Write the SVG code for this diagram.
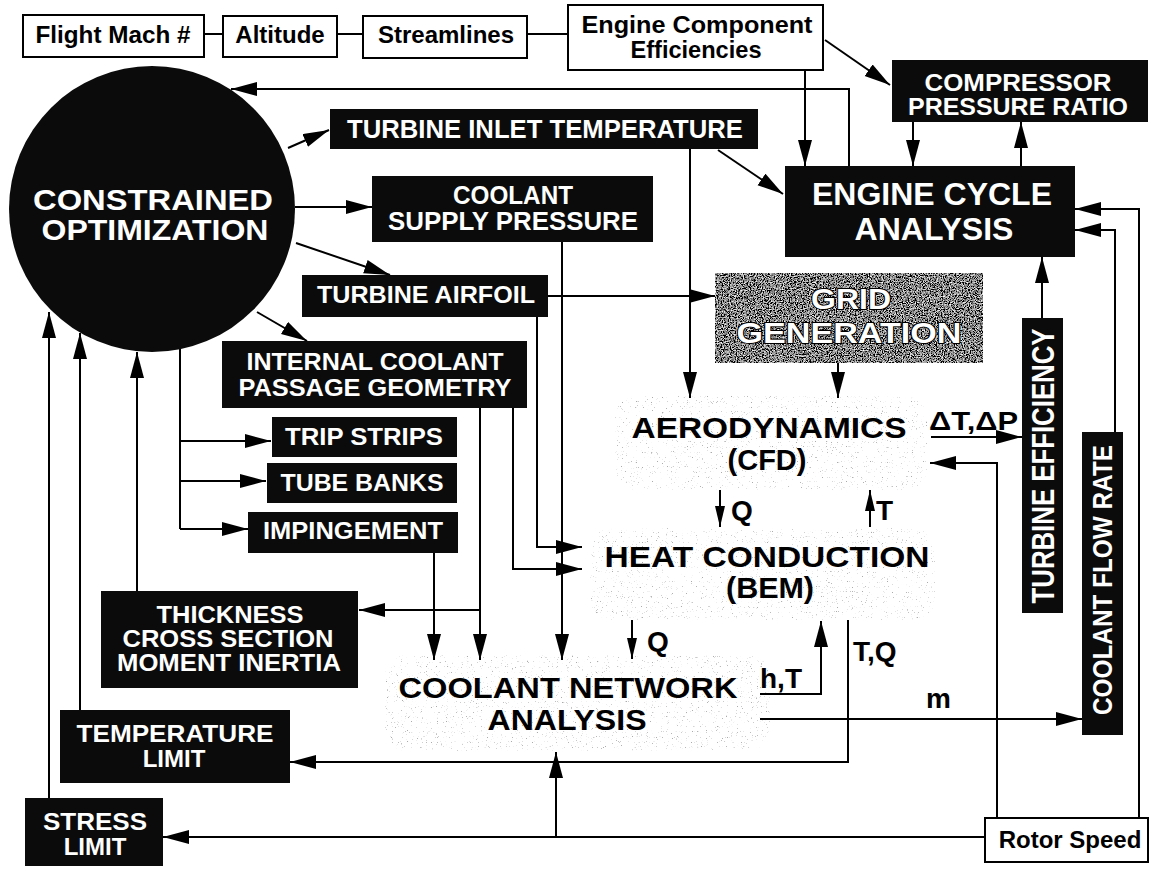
<svg xmlns="http://www.w3.org/2000/svg" width="1149" height="869" viewBox="0 0 1149 869">
<defs>
<style>
.box{fill:#fff;stroke:#000;stroke-width:2}
.dark{fill:#0b0b0b}
.t{font-family:"Liberation Sans",Arial,Helvetica,sans-serif;font-weight:bold;text-anchor:middle}
.s{font-family:"Liberation Sans",Arial,Helvetica,sans-serif;font-weight:bold}
.w{fill:#fff}
.k{fill:#000}
.ln{fill:none;stroke:#000;stroke-width:2}
.a{marker-end:url(#ah)}
.sa{marker-end:url(#sh)}
.g{fill:#fff;stroke:#000;stroke-width:2;paint-order:stroke}
</style>
<marker id="ah" markerUnits="userSpaceOnUse" markerWidth="27" markerHeight="15" refX="26" refY="7" orient="auto"><path d="M0,0 L26,7 L0,14 z" fill="#000"/></marker>
<marker id="sh" markerUnits="userSpaceOnUse" markerWidth="22" markerHeight="11" refX="21" refY="5" orient="auto"><path d="M0,0 L21,5 L0,10 z" fill="#000"/></marker>
<filter id="stip" x="0" y="0" width="100%" height="100%">
<feTurbulence type="fractalNoise" baseFrequency="1.2" numOctaves="1" seed="5" result="n"/>
<feColorMatrix in="n" type="matrix" values="0 0 0 0 0.4  0 0 0 0 0.4  0 0 0 0 0.4  10 0 0 0 -6.7" result="d"/>
<feComposite in="d" in2="SourceAlpha" operator="in"/>
</filter>
<filter id="grain" x="0" y="0" width="100%" height="100%">
<feTurbulence type="fractalNoise" baseFrequency="0.85" numOctaves="2" seed="2" result="n"/>
<feColorMatrix in="n" type="matrix" values="2.4 0 0 0 -0.95  2.4 0 0 0 -0.95  2.4 0 0 0 -0.95  0 0 0 0 1" result="g"/>
<feComposite in="g" in2="SourceAlpha" operator="in"/>
</filter>
</defs>
<rect width="1149" height="869" fill="#fff"/>

<g id="stipples">
<rect x="615" y="396" width="312" height="94" rx="22" fill="#000" filter="url(#stip)"/>
<rect x="590" y="528" width="345" height="92" rx="22" fill="#000" filter="url(#stip)"/>
<rect x="385" y="655" width="385" height="96" rx="22" fill="#000" filter="url(#stip)"/>
</g>

<g id="connectors">
<line class="ln" x1="204" y1="34" x2="223" y2="34"/>
<line class="ln" x1="337" y1="34" x2="363" y2="34"/>
<line class="ln" x1="527" y1="34" x2="568" y2="34"/>
<line class="ln a" x1="805" y1="70" x2="805" y2="166"/>
<line class="ln a" x1="825" y1="40" x2="890" y2="85"/>
<line class="ln a" x1="913" y1="122" x2="913" y2="166"/>
<line class="ln a" x1="1021" y1="166" x2="1021" y2="122"/>
<polyline class="ln a" points="849,166 849,89 231,89"/>
<line class="ln a" x1="288" y1="148" x2="329" y2="130"/>
<line class="ln a" x1="295" y1="207" x2="372" y2="207"/>
<line class="ln a" x1="296" y1="243" x2="390" y2="275"/>
<line class="ln a" x1="257" y1="312" x2="307" y2="341"/>
<polyline class="ln" points="180,349 180,529"/>
<line class="ln a" x1="180" y1="441" x2="271" y2="441"/>
<line class="ln a" x1="180" y1="481" x2="266" y2="481"/>
<line class="ln a" x1="180" y1="529" x2="248" y2="529"/>
<line class="ln a" x1="718" y1="150" x2="783" y2="194"/>
<line class="ln a" x1="690" y1="149" x2="690" y2="398"/>
<line class="ln a" x1="548" y1="296" x2="715" y2="296"/>
<polyline class="ln a" points="537,317 537,547 582,547"/>
<polyline class="ln a" points="513,408 513,569 582,569"/>
<line class="ln a" x1="480" y1="408" x2="480" y2="660"/>
<line class="ln a" x1="480" y1="610" x2="359" y2="610"/>
<line class="ln a" x1="562" y1="242" x2="562" y2="660"/>
<line class="ln a" x1="434" y1="553" x2="434" y2="660"/>
<line class="ln a" x1="838" y1="363" x2="838" y2="398"/>
<line class="ln sa" x1="720" y1="490" x2="720" y2="527"/>
<line class="ln sa" x1="870" y1="527" x2="870" y2="490"/>
<line class="ln sa" x1="632" y1="620" x2="632" y2="659"/>
<polyline class="ln a" points="760,694 821,694 821,621"/>
<polyline class="ln a" points="848,620 848,762 290,762"/>
<line class="ln a" x1="760" y1="719" x2="1082" y2="719"/>
<line class="ln a" x1="931" y1="437" x2="1022" y2="437"/>
<line class="ln a" x1="1042" y1="318" x2="1042" y2="257"/>
<polyline class="ln a" points="1115,432 1115,230 1075,230"/>
<polyline class="ln a" points="1139,818 1139,209 1075,209"/>
<polyline class="ln a" points="997,818 997,463 930,463"/>
<line class="ln a" x1="985" y1="837" x2="163" y2="837"/>
<line class="ln a" x1="556" y1="837" x2="556" y2="752"/>
<line class="ln a" x1="49" y1="798" x2="49" y2="312"/>
<line class="ln a" x1="80" y1="710" x2="80" y2="333"/>
<line class="ln a" x1="137" y1="591" x2="137" y2="352"/>
</g>

<g id="flight-mach">
<rect class="box" x="23" y="15" width="181" height="42"/>
<text class="t k" x="113" y="43" font-size="24" textLength="155" lengthAdjust="spacingAndGlyphs">Flight Mach #</text>
</g>
<g id="altitude">
<rect class="box" x="223" y="16" width="114" height="41"/>
<text class="t k" x="280" y="43" font-size="24">Altitude</text>
</g>
<g id="streamlines">
<rect class="box" x="363" y="16" width="164" height="42"/>
<text class="t k" x="446" y="43" font-size="24">Streamlines</text>
</g>
<g id="engine-component-efficiencies">
<rect class="box" x="568" y="5" width="255" height="65"/>
<text class="t k" x="697" y="33" font-size="24" textLength="231" lengthAdjust="spacingAndGlyphs">Engine Component</text>
<text class="t k" x="696" y="58" font-size="24" textLength="131" lengthAdjust="spacingAndGlyphs">Efficiencies</text>
</g>
<g id="compressor-pressure-ratio">
<rect class="dark" x="892" y="60" width="256" height="62"/>
<text class="t w" x="1018" y="91" font-size="23" textLength="187" lengthAdjust="spacingAndGlyphs">COMPRESSOR</text>
<text class="t w" x="1018" y="115" font-size="23" textLength="220" lengthAdjust="spacingAndGlyphs">PRESSURE RATIO</text>
</g>
<g id="engine-cycle-analysis">
<rect class="dark" x="785" y="166" width="290" height="91"/>
<text class="t w" x="932" y="205" font-size="32" textLength="240" lengthAdjust="spacingAndGlyphs">ENGINE CYCLE</text>
<text class="t w" x="934" y="240" font-size="32">ANALYSIS</text>
</g>
<g id="constrained-optimization">
<circle cx="152" cy="209" r="143" fill="#0b0b0b"/>
<text class="t w" x="153" y="210" font-size="30" textLength="240" lengthAdjust="spacingAndGlyphs">CONSTRAINED</text>
<text class="t w" x="155" y="240" font-size="30" textLength="227" lengthAdjust="spacingAndGlyphs">OPTIMIZATION</text>
</g>
<g id="turbine-inlet-temperature">
<rect class="dark" x="330" y="109" width="428" height="40"/>
<text class="t w" x="545" y="138" font-size="25" textLength="396" lengthAdjust="spacingAndGlyphs">TURBINE INLET TEMPERATURE</text>
</g>
<g id="coolant-supply-pressure">
<rect class="dark" x="372" y="176" width="281" height="66"/>
<text class="t w" x="513" y="204" font-size="25" textLength="120" lengthAdjust="spacingAndGlyphs">COOLANT</text>
<text class="t w" x="513" y="230" font-size="25" textLength="250" lengthAdjust="spacingAndGlyphs">SUPPLY PRESSURE</text>
</g>
<g id="turbine-airfoil">
<rect class="dark" x="302" y="275" width="246" height="42"/>
<text class="t w" x="426" y="303" font-size="24" textLength="218" lengthAdjust="spacingAndGlyphs">TURBINE AIRFOIL</text>
</g>
<g id="internal-coolant-passage-geometry">
<rect class="dark" x="222" y="341" width="305" height="67"/>
<text class="t w" x="375" y="370" font-size="24" textLength="257" lengthAdjust="spacingAndGlyphs">INTERNAL COOLANT</text>
<text class="t w" x="375" y="396" font-size="24" textLength="273" lengthAdjust="spacingAndGlyphs">PASSAGE GEOMETRY</text>
</g>
<g id="trip-strips">
<rect class="dark" x="272" y="417" width="185" height="40"/>
<text class="t w" x="364" y="445" font-size="24" textLength="158" lengthAdjust="spacingAndGlyphs">TRIP STRIPS</text>
</g>
<g id="tube-banks">
<rect class="dark" x="267" y="463" width="190" height="40"/>
<text class="t w" x="362" y="491" font-size="24" textLength="163" lengthAdjust="spacingAndGlyphs">TUBE BANKS</text>
</g>
<g id="impingement">
<rect class="dark" x="248" y="512" width="210" height="41"/>
<text class="t w" x="353" y="539" font-size="24" textLength="180" lengthAdjust="spacingAndGlyphs">IMPINGEMENT</text>
</g>
<g id="thickness">
<rect class="dark" x="101" y="591" width="257" height="97"/>
<text class="t w" x="230" y="623" font-size="23" textLength="147" lengthAdjust="spacingAndGlyphs">THICKNESS</text>
<text class="t w" x="228" y="647" font-size="23" textLength="211" lengthAdjust="spacingAndGlyphs">CROSS SECTION</text>
<text class="t w" x="229" y="671" font-size="23" textLength="224" lengthAdjust="spacingAndGlyphs">MOMENT INERTIA</text>
</g>
<g id="temperature-limit">
<rect class="dark" x="60" y="710" width="230" height="73"/>
<text class="t w" x="175" y="742" font-size="24" textLength="197" lengthAdjust="spacingAndGlyphs">TEMPERATURE</text>
<text class="t w" x="174" y="767" font-size="24">LIMIT</text>
</g>
<g id="stress-limit">
<rect class="dark" x="25" y="798" width="138" height="68"/>
<text class="t w" x="95" y="830" font-size="24" textLength="104" lengthAdjust="spacingAndGlyphs">STRESS</text>
<text class="t w" x="95" y="855" font-size="24">LIMIT</text>
</g>
<g id="grid-generation">
<rect x="715" y="273" width="268" height="90" fill="#000" filter="url(#grain)"/>
<text class="t g" x="851" y="309" font-size="30" textLength="80" lengthAdjust="spacingAndGlyphs">GRID</text>
<text class="t g" x="849" y="343" font-size="30" textLength="225" lengthAdjust="spacingAndGlyphs">GENERATION</text>
</g>
<g id="aerodynamics">
<text class="t k" x="769" y="438" font-size="29" textLength="275" lengthAdjust="spacingAndGlyphs">AERODYNAMICS</text>
<text class="t k" x="767" y="470" font-size="29">(CFD)</text>
</g>
<g id="heat-conduction">
<text class="t k" x="767" y="567" font-size="30" textLength="325" lengthAdjust="spacingAndGlyphs">HEAT CONDUCTION</text>
<text class="t k" x="770" y="598" font-size="30" textLength="88" lengthAdjust="spacingAndGlyphs">(BEM)</text>
</g>
<g id="coolant-network-analysis">
<text class="t k" x="568" y="698" font-size="29" textLength="339" lengthAdjust="spacingAndGlyphs">COOLANT NETWORK</text>
<text class="t k" x="567" y="730" font-size="29" textLength="159" lengthAdjust="spacingAndGlyphs">ANALYSIS</text>
</g>
<g id="turbine-efficiency">
<rect class="dark" x="1022" y="318" width="41" height="295"/>
<text class="t w" font-size="24" transform="translate(1042.5,466) rotate(-90) scale(1,1.3)" x="0" y="8.5" textLength="275" lengthAdjust="spacingAndGlyphs">TURBINE EFFICIENCY</text>
</g>
<g id="coolant-flow-rate">
<rect class="dark" x="1082" y="432" width="41" height="303"/>
<text class="t w" font-size="24" transform="translate(1102.5,580) rotate(-90) scale(1,1.15)" x="0" y="8.5" textLength="270" lengthAdjust="spacingAndGlyphs">COOLANT FLOW RATE</text>
</g>
<g id="rotor-speed">
<rect class="box" x="985" y="818" width="163" height="44"/>
<text class="t k" x="1070" y="848" font-size="24">Rotor Speed</text>
</g>
<g id="labels">
<text class="s k" x="731" y="520" font-size="28">Q</text>
<text class="s k" x="876" y="520" font-size="28">T</text>
<text class="s k" x="647" y="651" font-size="28">Q</text>
<text class="s k" x="760" y="688" font-size="28">h,T</text>
<text class="s k" x="853" y="661" font-size="28">T,Q</text>
<text class="s k" x="926" y="708" font-size="28">m</text>
<text class="s k" x="929" y="430" font-size="26" textLength="89" lengthAdjust="spacingAndGlyphs">ΔT,ΔP</text>
</g>
</svg>
